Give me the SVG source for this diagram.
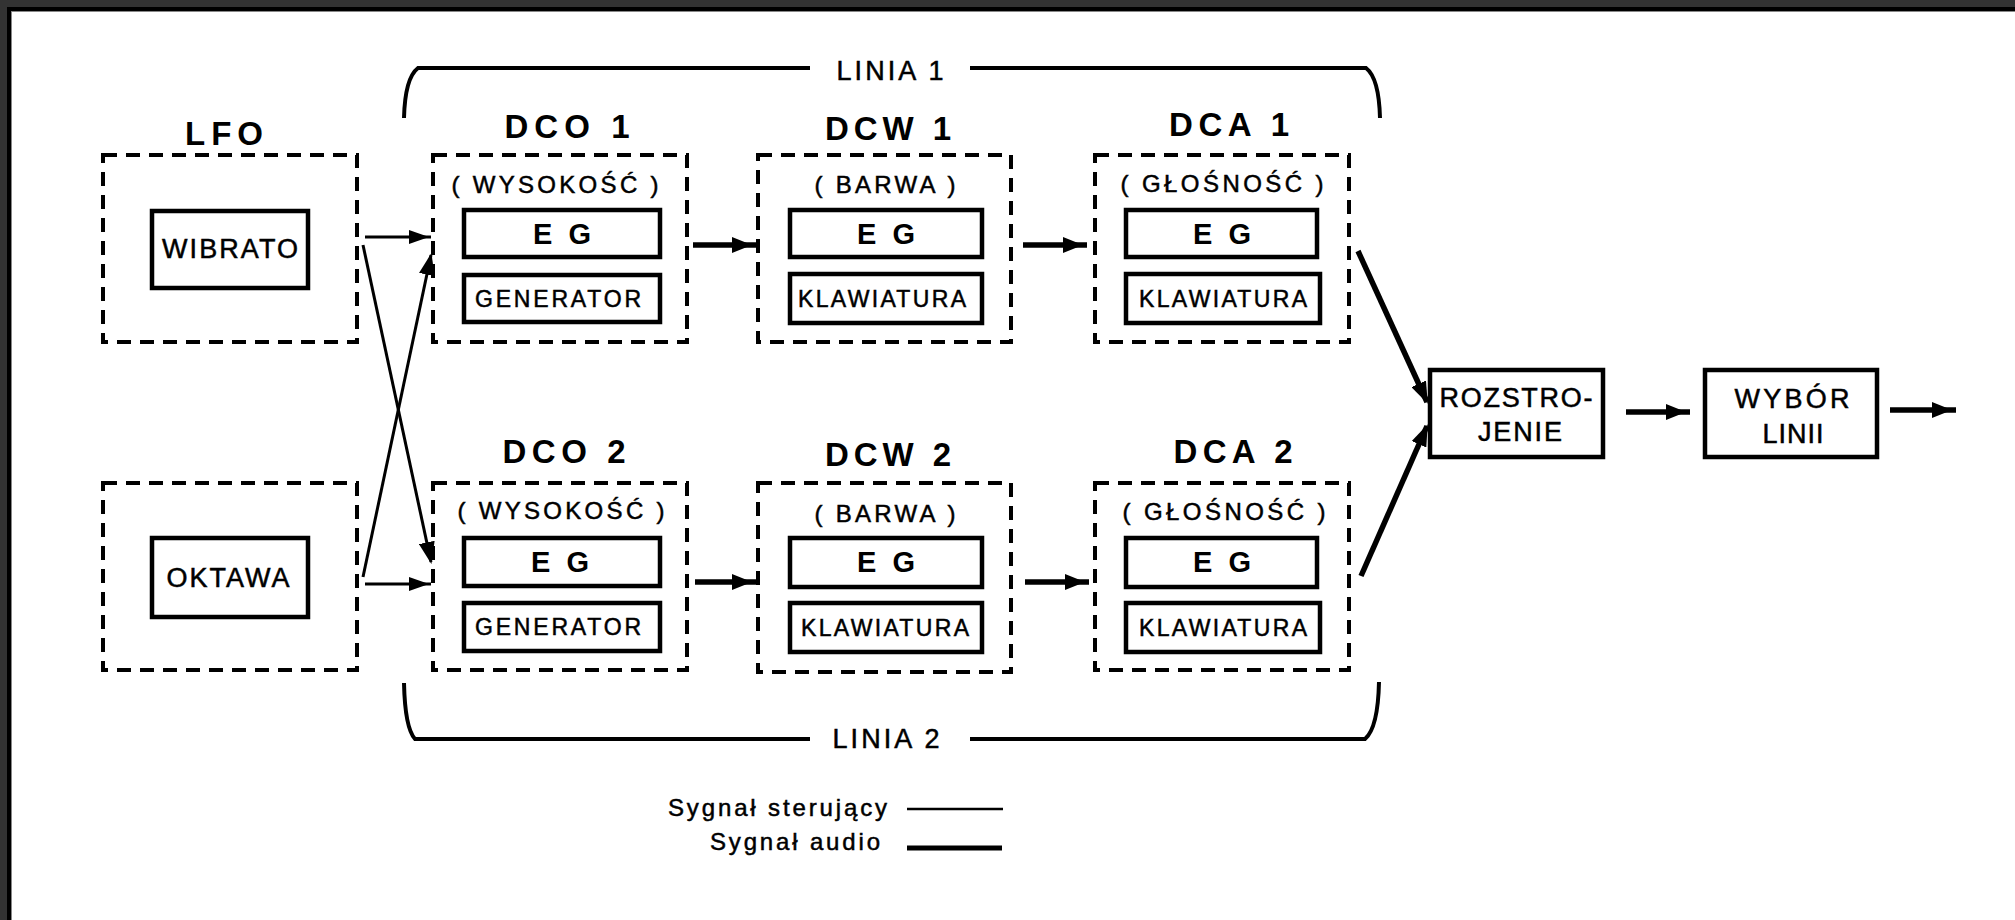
<svg xmlns="http://www.w3.org/2000/svg" width="2015" height="920" viewBox="0 0 2015 920">
  <style>
    .dash { fill: none; stroke: #000; stroke-width: 4; stroke-dasharray: 14 9; }
    .box { fill: #fff; stroke: #000; stroke-width: 4.5; }
    .title { font-family: "Liberation Sans", Arial, sans-serif; font-weight: bold; font-size: 33px; text-anchor: middle; fill: #000; }
    .sub { font-family: "Liberation Sans", Arial, sans-serif; font-size: 24px; text-anchor: middle; fill: #000; stroke: #000; stroke-width: 0.5; }
    .eg { font-family: "Liberation Sans", Arial, sans-serif; font-weight: bold; font-size: 29px; text-anchor: middle; fill: #000; }
    .lbl { font-family: "Liberation Sans", Arial, sans-serif; font-size: 23px; text-anchor: middle; fill: #000; stroke: #000; stroke-width: 0.5; }
    .big { font-family: "Liberation Sans", Arial, sans-serif; font-size: 27px; text-anchor: middle; fill: #000; stroke: #000; stroke-width: 0.5; }
    .leg { font-family: "Liberation Sans", Arial, sans-serif; font-size: 24px; text-anchor: end; fill: #000; stroke: #000; stroke-width: 0.5; }
    .ctrl { fill: none; stroke: #000; stroke-width: 3; }
    .audio { fill: none; stroke: #000; stroke-width: 5.5; }
    .brace { fill: none; stroke: #000; stroke-width: 4; }
  </style>
  <defs>
    <marker id="headCtrl" markerUnits="userSpaceOnUse" viewBox="0 0 20 14" refX="22" refY="7" markerWidth="20" markerHeight="14" orient="auto">
      <path d="M0,0 L20,7 L0,14 Z" fill="#000"/>
    </marker>
    <marker id="headAudio" markerUnits="userSpaceOnUse" viewBox="0 0 20 16" refX="24" refY="8" markerWidth="20" markerHeight="16" orient="auto">
      <path d="M0,0 L20,8 L0,16 Z" fill="#000"/>
    </marker>
    <marker id="headTip" markerUnits="userSpaceOnUse" viewBox="0 0 22 16" refX="20" refY="8" markerWidth="22" markerHeight="16" orient="auto">
      <path d="M0,0 L22,8 L0,16 Z" fill="#000"/>
    </marker>
  </defs>

  <!-- page background and the dark edge along the top and left -->
  <rect x="0" y="0" width="2015" height="920" fill="#fff"/>
  <g id="frame">
    <rect x="0" y="0" width="2015" height="7" fill="#333"/>
    <rect x="0" y="0" width="7" height="920" fill="#333"/>
    <rect x="7" y="7" width="2008" height="4" fill="#000"/>
    <rect x="7" y="7" width="4" height="913" fill="#000"/>
    <rect x="11" y="11" width="2004" height="1" fill="#888"/>
    <rect x="11" y="11" width="1" height="909" fill="#888"/>
  </g>

  <!-- line brackets -->
  <g id="linia1">
    <path class="brace" d="M404,118 Q405,78 418,68 L810,68"/>
    <path class="brace" d="M970,68 L1366,68 Q1379,78 1380,118"/>
    <text class="big" x="890" y="80" textLength="107" lengthAdjust="spacing">LINIA 1</text>
  </g>
  <g id="linia2">
    <path class="brace" d="M404,683 Q405,728 415,739 L810,739"/>
    <path class="brace" d="M970,739 L1365,739 Q1378,728 1379,682"/>
    <text class="big" x="886" y="748" textLength="107" lengthAdjust="spacing">LINIA 2</text>
  </g>

  <!-- modulation sources -->
  <g id="lfo">
    <text class="title" x="224" y="145" textLength="78" lengthAdjust="spacing">LFO</text>
    <rect class="dash" x="103" y="155" width="254" height="187"/>
    <rect class="box" x="152" y="211" width="156" height="77"/>
    <text class="big" x="230" y="258" textLength="136" lengthAdjust="spacing">WIBRATO</text>
  </g>
  <g id="oktawa">
    <rect class="dash" x="103" y="483" width="254" height="187"/>
    <rect class="box" x="152" y="538" width="156" height="79"/>
    <text class="big" x="228" y="587" textLength="123" lengthAdjust="spacing">OKTAWA</text>
  </g>

  <!-- line 1 chain -->
  <g id="dco1">
    <text class="title" x="567" y="138" textLength="125" lengthAdjust="spacing">DCO 1</text>
    <rect class="dash" x="433" y="155" width="254" height="187"/>
    <text class="sub" x="555" y="193" textLength="207" lengthAdjust="spacing">( WYSOKOŚĆ )</text>
    <rect class="box" x="464" y="210" width="196" height="47"/>
    <text class="eg" x="562" y="244" textLength="58" lengthAdjust="spacing">E G</text>
    <rect class="box" x="464" y="275" width="196" height="47"/>
    <text class="lbl" x="558" y="307" textLength="166" lengthAdjust="spacing">GENERATOR</text>
  </g>
  <g id="dcw1">
    <text class="title" x="888" y="140" textLength="126" lengthAdjust="spacing">DCW 1</text>
    <rect class="dash" x="758" y="155" width="253" height="187"/>
    <text class="sub" x="885" y="193" textLength="141" lengthAdjust="spacing">( BARWA )</text>
    <rect class="box" x="790" y="210" width="192" height="47"/>
    <text class="eg" x="886" y="244" textLength="58" lengthAdjust="spacing">E G</text>
    <rect class="box" x="790" y="274" width="192" height="49"/>
    <text class="lbl" x="882" y="307" textLength="168" lengthAdjust="spacing">KLAWIATURA</text>
  </g>
  <g id="dca1">
    <text class="title" x="1229" y="136" textLength="120" lengthAdjust="spacing">DCA 1</text>
    <rect class="dash" x="1095" y="155" width="254" height="187"/>
    <text class="sub" x="1222" y="192" textLength="203" lengthAdjust="spacing">( GŁOŚNOŚĆ )</text>
    <rect class="box" x="1126" y="210" width="191" height="47"/>
    <text class="eg" x="1222" y="244" textLength="58" lengthAdjust="spacing">E G</text>
    <rect class="box" x="1126" y="274" width="194" height="49"/>
    <text class="lbl" x="1223" y="307" textLength="168" lengthAdjust="spacing">KLAWIATURA</text>
  </g>

  <!-- line 2 chain -->
  <g id="dco2">
    <text class="title" x="564" y="463" textLength="123" lengthAdjust="spacing">DCO 2</text>
    <rect class="dash" x="433" y="483" width="254" height="187"/>
    <text class="sub" x="561" y="519" textLength="207" lengthAdjust="spacing">( WYSOKOŚĆ )</text>
    <rect class="box" x="464" y="538" width="196" height="48"/>
    <text class="eg" x="560" y="572" textLength="58" lengthAdjust="spacing">E G</text>
    <rect class="box" x="464" y="603" width="196" height="48"/>
    <text class="lbl" x="558" y="635" textLength="166" lengthAdjust="spacing">GENERATOR</text>
  </g>
  <g id="dcw2">
    <text class="title" x="888" y="466" textLength="126" lengthAdjust="spacing">DCW 2</text>
    <rect class="dash" x="758" y="483" width="253" height="189"/>
    <text class="sub" x="885" y="522" textLength="141" lengthAdjust="spacing">( BARWA )</text>
    <rect class="box" x="790" y="538" width="192" height="49"/>
    <text class="eg" x="886" y="572" textLength="58" lengthAdjust="spacing">E G</text>
    <rect class="box" x="790" y="603" width="192" height="49"/>
    <text class="lbl" x="885" y="636" textLength="168" lengthAdjust="spacing">KLAWIATURA</text>
  </g>
  <g id="dca2">
    <text class="title" x="1233" y="463" textLength="119" lengthAdjust="spacing">DCA 2</text>
    <rect class="dash" x="1095" y="483" width="254" height="187"/>
    <text class="sub" x="1224" y="520" textLength="203" lengthAdjust="spacing">( GŁOŚNOŚĆ )</text>
    <rect class="box" x="1126" y="538" width="191" height="49"/>
    <text class="eg" x="1222" y="572" textLength="58" lengthAdjust="spacing">E G</text>
    <rect class="box" x="1126" y="603" width="194" height="49"/>
    <text class="lbl" x="1223" y="636" textLength="168" lengthAdjust="spacing">KLAWIATURA</text>
  </g>

  <!-- output stages -->
  <g id="rozstrojenie">
    <rect class="box" x="1430" y="370" width="173" height="87"/>
    <text class="big" x="1516" y="407" textLength="153" lengthAdjust="spacing">ROZSTRO-</text>
    <text class="big" x="1520" y="441" textLength="84" lengthAdjust="spacing">JENIE</text>
  </g>
  <g id="wybor-linii">
    <rect class="box" x="1705" y="370" width="172" height="87"/>
    <text class="big" x="1792" y="408" textLength="115" lengthAdjust="spacing">WYBÓR</text>
    <text class="big" x="1793" y="443" textLength="61" lengthAdjust="spacing">LINII</text>
  </g>

  <!-- signal paths -->
  <g id="connectors">
    <line class="ctrl" x1="365" y1="237" x2="431" y2="237" marker-end="url(#headCtrl)"/>
    <line class="ctrl" x1="365" y1="584" x2="431" y2="584" marker-end="url(#headCtrl)"/>
    <line class="ctrl" x1="363" y1="245" x2="431" y2="562" marker-end="url(#headTip)"/>
    <line class="ctrl" x1="363" y1="577" x2="431" y2="255" marker-end="url(#headTip)"/>

    <line class="audio" x1="693" y1="245" x2="756" y2="245" marker-end="url(#headAudio)"/>
    <line class="audio" x1="1023" y1="245" x2="1087" y2="245" marker-end="url(#headAudio)"/>
    <line class="audio" x1="695" y1="582" x2="756" y2="582" marker-end="url(#headAudio)"/>
    <line class="audio" x1="1025" y1="582" x2="1089" y2="582" marker-end="url(#headAudio)"/>

    <line class="audio" x1="1358" y1="251" x2="1427" y2="402" marker-end="url(#headTip)"/>
    <line class="audio" x1="1361" y1="576" x2="1427" y2="426" marker-end="url(#headTip)"/>

    <line class="audio" x1="1626" y1="412" x2="1690" y2="412" stroke-width="7" marker-end="url(#headAudio)"/>
    <line class="audio" x1="1890" y1="410" x2="1956" y2="410" stroke-width="5" marker-end="url(#headAudio)"/>
  </g>

  <!-- key -->
  <g id="legend">
    <text class="leg" x="887" y="816" textLength="219" lengthAdjust="spacing">Sygnał sterujący</text>
    <line x1="907" y1="809" x2="1003" y2="809" stroke="#000" stroke-width="2.5"/>
    <text class="leg" x="880" y="850" textLength="170" lengthAdjust="spacing">Sygnał audio</text>
    <line x1="907" y1="848" x2="1002" y2="848" stroke="#000" stroke-width="5"/>
  </g>
</svg>
